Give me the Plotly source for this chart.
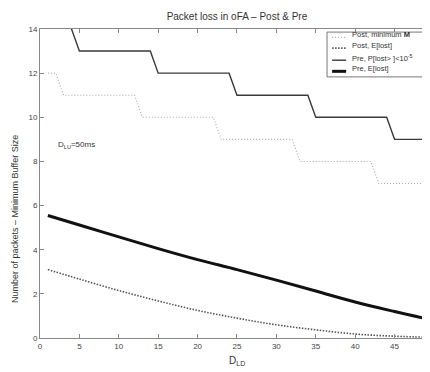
import plotly.graph_objects as go

# ---- data ----
x_steps = list(range(1, 51))
post_min_M = [12, 12,
              11, 11, 11, 11, 11, 11, 11, 11, 11, 11,
              10, 10, 10, 10, 10, 10, 10, 10, 10, 10,
              9, 9, 9, 9, 9, 9, 9, 9, 9, 9,
              8, 8, 8, 8, 8, 8, 8, 8, 8, 8,
              7, 7, 7, 7, 7, 7, 7, 7]
pre_P = [17, 16, 15, 14,
         13, 13, 13, 13, 13, 13, 13, 13, 13, 13,
         12, 12, 12, 12, 12, 12, 12, 12, 12, 12,
         11, 11, 11, 11, 11, 11, 11, 11, 11, 11,
         10, 10, 10, 10, 10, 10, 10, 10, 10, 10,
         9, 9, 9, 9, 9, 9]
x_curve = [1, 5, 10, 15, 20, 25, 30, 35, 40, 45, 50]
post_E = [3.10, 2.67, 2.15, 1.68, 1.25, 0.90, 0.60, 0.37, 0.18, 0.08, 0.03]
pre_E = [5.55, 5.12, 4.58, 4.05, 3.55, 3.10, 2.62, 2.13, 1.63, 1.20, 0.80]

x_ticks = [0, 5, 10, 15, 20, 25, 30, 35, 40, 45, 50]
y_ticks = [0, 2, 4, 6, 8, 10, 12, 14]

legend_names = ["Post, minimum <b>M</b>", "Post, E[lost]",
                "Pre, P[lost> ]<10<sup>-5</sup>", "Pre, E[lost]"]
legend_styles = [dict(color="#a8a8a8", width=1.1, dash="1px,2px"),
                 dict(color="#555555", width=1.6, dash="1.5px,1.5px"),
                 dict(color="#3a3a3a", width=1.4),
                 dict(color="#111111", width=3)]

FONT = "Liberation Sans, Arial, sans-serif"

fig = go.Figure()
fig.add_trace(go.Scatter(x=x_steps, y=post_min_M, mode="lines",
                         name=legend_names[0], line=legend_styles[0]))
fig.add_trace(go.Scatter(x=x_curve, y=post_E, mode="lines", line_shape="spline",
                         name=legend_names[1], line=legend_styles[1]))
fig.add_trace(go.Scatter(x=x_steps, y=pre_P, mode="lines",
                         name=legend_names[2], line=legend_styles[2]))
fig.add_trace(go.Scatter(x=x_curve, y=pre_E, mode="lines", line_shape="spline",
                         name=legend_names[3], line=legend_styles[3]))

# page body has an 8px margin, so the figure is sized to fill the rest of the window
fig.update_layout(
    width=422, height=364,
    margin=dict(l=32, r=0, t=21, b=34),
    paper_bgcolor="white", plot_bgcolor="white",
    font=dict(family=FONT, size=8, color="#333333"),
    title=dict(text="Packet loss in oFA – Post & Pre", xref="paper", x=0.505,
               xanchor="center", y=0.978, yanchor="middle",
               font=dict(size=10, color="#333333")),
    showlegend=False,
    xaxis=dict(range=[0, 49.5], tickvals=x_ticks, showgrid=False, zeroline=False,
               showline=True, linecolor="#888888", linewidth=1, mirror="ticks",
               ticks="inside", ticklen=4, tickcolor="#888888",
               tickfont=dict(size=8, color="#444444")),
    yaxis=dict(range=[0, 14], tickvals=y_ticks, showgrid=False, zeroline=False,
               showline=True, linecolor="#888888", linewidth=1, mirror="ticks",
               ticks="inside", ticklen=4, tickcolor="#888888",
               tickfont=dict(size=8, color="#444444")),
)

# axis titles (placed like the reference)
fig.add_annotation(x=0.505, y=-0.052, xref="paper", yref="paper",
                   xanchor="center", yanchor="top", text="D<sub>LD</sub>",
                   showarrow=False, font=dict(size=10, color="#333333"), borderpad=0)
fig.add_annotation(x=-0.064, y=0.385, xref="paper", yref="paper",
                   xanchor="center", yanchor="middle", textangle=-90,
                   text="Number of packets – Minimum Buffer Size",
                   showarrow=False, font=dict(size=9, color="#333333"), borderpad=0)

# compact legend box
fig.add_shape(type="rect", xref="paper", yref="paper",
              x0=0.736, x1=1.02, y0=0.845, y1=0.99,
              line=dict(color="#777777", width=1), fillcolor="white", layer="above")
row_y = [0.981, 0.946, 0.907, 0.871]
for name, style, ry in zip(legend_names, legend_styles, row_y):
    fig.add_shape(type="line", xref="paper", yref="paper",
                  x0=0.749, x1=0.785, y0=ry - 0.008, y1=ry - 0.008,
                  line=style, layer="above")
    fig.add_annotation(x=0.797, y=ry, xref="paper", yref="paper",
                       xanchor="left", yanchor="middle", text=name, showarrow=False,
                       font=dict(size=7.5, color="#333333"), borderpad=0)

fig.add_annotation(x=2.1, y=8.75, xref="x", yref="y", xanchor="left", yanchor="middle",
                   text="D<sub>LU</sub>=50ms", showarrow=False,
                   font=dict(size=8, color="#333333"), borderpad=0)

fig.write_html("out.html")
